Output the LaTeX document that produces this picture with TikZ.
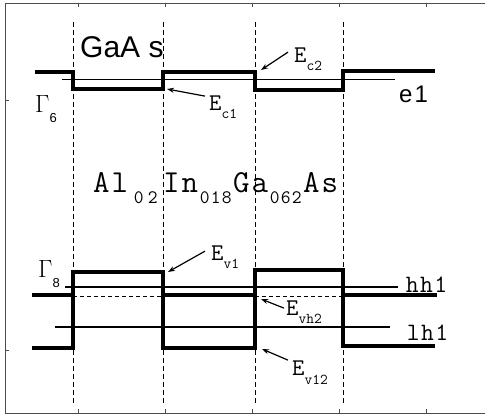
\documentclass[tikz,border=0pt]{standalone}
\usepackage{fontspec}
\setmainfont{Liberation Serif}
\newfontfamily\sansfam{Liberation Sans}
\usetikzlibrary{arrows.meta}
\newcommand\mcell[1]{\makebox[18.5pt]{#1}}
\newcommand\scell[1]{\makebox[11pt]{#1}}
\newcommand\hcell[1]{\makebox[14.3pt]{#1}}
\newcommand\Elabel[2][-8pt]{{\ttfamily\fontsize{24}{24}\selectfont E\raisebox{#1}{\fontsize{15}{15}\selectfont #2}}}
\newcommand\asub[1]{\raisebox{-11pt}{\fontsize{19}{19}\selectfont #1}}
\newcommand\gsub[1]{\raisebox{-10pt}{\sansfam\fontsize{13}{13}\selectfont #1}}
\begin{document}
\begin{tikzpicture}[x=1pt,y=-1pt,
  band/.style={line width=4pt, line cap=butt, line join=miter},
  level/.style={line width=1.6pt},
  bound/.style={line width=0.9pt, dash pattern=on 5pt off 3pt},
  hdash/.style={line width=0.8pt, dash pattern=on 4pt off 3pt},
  ptr/.style={line width=1.2pt, -{Stealth[length=7pt,width=5pt]}},
  framestyle/.style={draw=black!70, line width=1pt},
  lab/.style={inner sep=0pt, anchor=base west}]
\useasboundingbox (0,0) rectangle (485,415);
% frame
\draw[framestyle] (485,3) -- (5,3) -- (5,413) -- (485,413);
\foreach \x in {78,165,252,339,426} {
  \draw[framestyle] (\x,3) -- (\x,7);
  \draw[framestyle] (\x,413) -- (\x,409);
}
\draw[framestyle] (5,100) -- (9,100);
\draw[framestyle] (5,350) -- (9,350);
% interfaces
\foreach \x in {73,163,255,343} \draw[bound] (\x,22) -- (\x,405);
% conduction band
\draw[band] (35,72) -- (73,72) -- (73,89) -- (163,89) -- (163,72) -- (255,72) -- (255,90) -- (343,90) -- (343,71) -- (435,71);
\draw[level] (62,79.5) -- (395,79.5);
% valence band
\draw[band] (32,348) -- (73,348) -- (73,272) -- (163,272) -- (163,348) -- (255,348) -- (255,270) -- (343,270) -- (343,346) -- (435,346);
\draw[band] (32,295) -- (73,295);
\draw[band] (163,295) -- (255,295);
\draw[band] (343,295) -- (437,295);
\draw[hdash] (73,296) -- (163,296);
\draw[hdash] (255,296) -- (343,296);
\draw[level] (65,287) -- (398,287);
\draw[level] (55,327) -- (390,327);
% labels
\node[lab] (gaas) at (80,57) {\sansfam\fontsize{30}{30}\selectfont GaA s};
\node[lab] (alloy) at (92,192) {\ttfamily\fontsize{32}{32}\selectfont
  \mcell{A}\mcell{l}\asub{\makebox[4pt]{}\scell{0}\makebox[3pt]{}\scell{2}\makebox[4pt]{}}\mcell{I}\mcell{n}\asub{\scell{0}\scell{1}\scell{8}}\mcell{G}\mcell{a}\asub{\scell{0}\scell{6}\scell{2}}\mcell{A}\mcell{s}};
\node[lab] (g6) at (35,112) {\fontsize{25}{25}\selectfont $\Gamma$\gsub{6}};
\node[lab] (g8) at (38,277) {\fontsize{24}{24}\selectfont $\Gamma$\gsub{8}};
\node[lab] (e1) at (399,102) {\sansfam\fontsize{24}{24}\selectfont e\kern2pt 1};
\node[lab] (hh1) at (405,292) {\ttfamily\fontsize{25}{25}\selectfont \hcell{h}\hcell{h}\hcell{1}};
\node[lab] (lh1) at (406,340) {\ttfamily\fontsize{25}{25}\selectfont \hcell{l}\hcell{h}\hcell{1}};
\node[lab] (ec1) at (209,110) {\Elabel{c1}};
\node[lab] (ec2) at (294,62) {\Elabel{c2}};
\node[lab] (ev1) at (211,260) {\Elabel{v1}};
\node[lab] (evh2) at (286,315) {\Elabel{vh2}};
\node[lab] (ev12) at (292,375) {\Elabel[-9pt]{v12}};
% arrow tips
\coordinate (tc1) at (167,89);
\coordinate (tc2) at (261,70);
\coordinate (tv1) at (168,272);
\coordinate (tvh2) at (261,299);
\coordinate (tv12) at (262,349);
\draw[ptr] ([shift={(-4,1)}]ec1.north west) -- (tc1);
\draw[ptr] ([shift={(-6,5)}]ec2.north west) -- (tc2);
\draw[ptr] ([shift={(-6,6)}]ev1.north west) -- (tv1);
\draw[ptr] ([shift={(-2,8)}]evh2.north west) -- (tvh2);
\draw[ptr] ([shift={(-4,0)}]ev12.north west) -- (tv12);
\end{tikzpicture}
\end{document}
